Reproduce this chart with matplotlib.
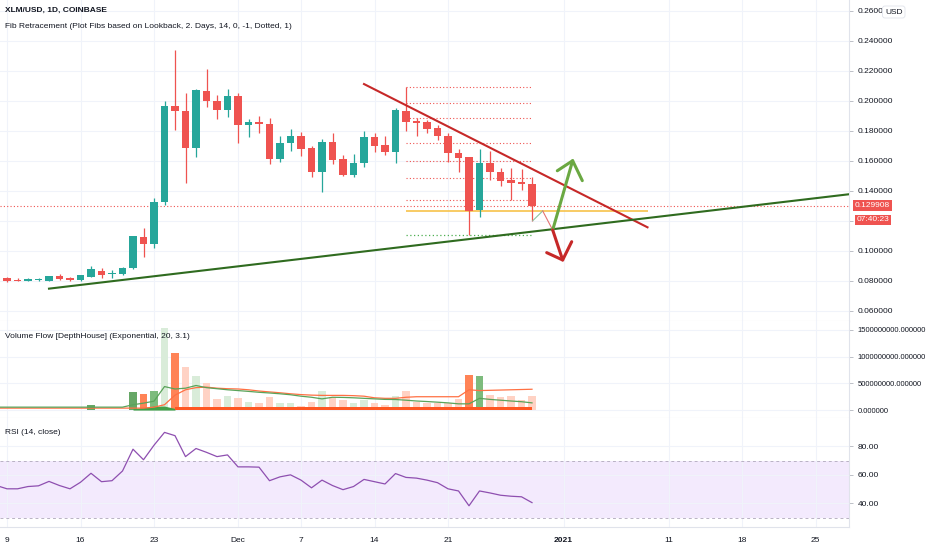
import numpy as np
import matplotlib
matplotlib.use('Agg')
import matplotlib.pyplot as plt
from matplotlib import transforms

plt.rcParams['font.family'] = ['Liberation Sans', 'DejaVu Sans']
FS = 6.0       # axis labels
FS_VOL = 5.5   # long volume labels
FS_T = 6.0     # pane titles

# ---- data (day 0 = Nov 9 2020) ----
first_day = -1
opens = [.0815, .0820, .0808, .0801, .0808, .0801, .0833, .0822, .0805, .0829,
         .0869, .0849, .0845, .0885, .1095, .1047, .1325, .1967, .1935, .1687,
         .2069, .2002, .1940, .2033, .1838, .1860, .1847, .1613, .1718, .1765,
         .1685, .1527, .1727, .1611, .1507, .1589, .1762, .1705, .1662, .1935,
         .1869, .1858, .1822, .1769, .1651, .1629, .1273, .1589, .1529, .1473,
         .1458, .1447]
highs = [.0822, .0827, .0820, .0820, .0817, .0835, .0845, .0828, .0842, .0902,
         .0885, .0873, .0892, .1103, .1153, .1355, .1998, .2340, .2055, .2078,
         .2211, .2040, .2078, .2051, .1878, .1899, .1884, .1767, .1811, .1790,
         .1700, .1745, .1785, .1640, .1649, .1800, .1789, .1767, .1955, .2096,
         .1889, .1871, .1840, .1789, .1678, .1629, .1680, .1667, .1551, .1551,
         .1545, .1491]
lows = [.0800, .0795, .0798, .0797, .0803, .0800, .0805, .0800, .0803, .0825,
        .0818, .0818, .0843, .0880, .0962, .1020, .1307, .1807, .1455, .1629,
        .1962, .1880, .1891, .1722, .1760, .1789, .1578, .1595, .1667, .1635,
        .1495, .1395, .1578, .1500, .1495, .1558, .1662, .1640, .1589, .1802,
        .1767, .1789, .1740, .1595, .1529, .1107, .1229, .1473, .1431, .1340,
        .1407, .1200]
closes = [.0807, .0800, .0803, .0812, .0810, .0831, .0813, .0805, .0838, .0880,
          .0840, .0852, .0889, .1100, .1047, .1325, .1967, .1933, .1687, .2073,
          .2002, .1940, .2033, .1838, .1860, .1845, .1613, .1722, .1765, .1682,
          .1527, .1727, .1607, .1507, .1589, .1762, .1702, .1662, .1940, .1862,
          .1855, .1815, .1767, .1651, .1620, .1267, .1589, .1525, .1469, .1455,
          .1445, .1299]
last_price = 0.129908
countdown = '07:40:23'

fib_levels = [0.2096, 0.1989, 0.1885, 0.1718, 0.1602, 0.1485, 0.1337]
fib_low = 0.1107
fib_yellow = 0.1269
fib_start, fib_end, yellow_end = 38, 50, 61

red_trend = ([34.0, 61.0], [0.2113, 0.1158])
green_trend = ([4.0, 81.0], [0.0749, 0.1385])
green_arrow = ([51.97, 53.87], [0.1140, 0.1602])
green_head = ([52.41, 53.87, 54.79], [0.1535, 0.1602, 0.1469])
red_arrow = ([51.97, 52.92], [0.1140, 0.0940])
red_head = ([51.40, 52.92, 53.78], [0.0989, 0.0940, 0.1062])
path_up = ([50.07, 51.02], [0.1202, 0.1267])
path_down = ([51.02, 51.97], [0.1267, 0.1140])

# volume flow bars, day 8..50 (units of 1e8)
vol_first = 8
vol_vals = [0.98, 0, 0, 0, 3.3, 3.0, 3.5, 15.3, 10.6, 8.1,
            6.3, 5.0, 2.1, 2.65, 2.35, 1.5, 1.3, 2.5, 1.3, 1.3,
            0.8, 1.43, 3.6, 2.5, 1.87, 1.24, 1.87, 1.24, 0.98, 2.7,
            3.6, 1.43, 1.24, 1.24, 1.24, 2.05, 6.5, 6.4, 2.8, 2.4,
            2.6, 1.8, 2.6]
vol_kind = ['G', 'g', 'g', 'g', 'G', 'R', 'M', 'g', 'R', 'r',
            'g', 'r', 'r', 'g', 'r', 'g', 'r', 'r', 'g', 'g',
            'r', 'r', 'g', 'r', 'r', 'g', 'g', 'r', 'r', 'g',
            'r', 'r', 'r', 'r', 'r', 'r', 'R', 'M', 'r', 'r',
            'r', 'r', 'r']
# averages, day -1..50 (units of 1e8)
bear_avg = [0.37] * 15 + [0.55, 1.0, 2.8, 3.8, 4.2, 4.3, 4.1, 4.0, 3.95, 3.8,
                          3.57, 3.4, 3.24, 3.05, 2.9, 2.8, 2.75, 2.75, 2.75, 2.7,
                          2.6, 2.3, 2.2, 2.2, 2.4, 2.5, 2.5, 2.5, 2.5, 2.5,
                          3.8, 3.65, 3.7, 3.75, 3.8, 3.85, 3.9]
bull_avg = [0.55] * 13 + [1.0, 1.3, 1.67, 4.4, 3.95, 4.1, 4.6, 4.2, 4.0, 3.8,
                          3.65, 3.5, 3.33, 3.2, 3.05, 2.87, 2.6, 2.4, 2.1, 2.4,
                          2.37, 2.3, 2.2, 2.1, 2.0, 1.98, 1.85, 1.7, 1.6, 1.48,
                          1.35, 1.17, 1.17, 2.2, 2.0, 1.85, 1.7, 1.57, 1.35]
bull_base_days = [12, 13, 14, 15, 16]
bull_base = [0.3, 0.45, 0.75, 0.75, 0.3]
bear_base_days = list(range(16, 51))
bear_base = [0.5] * 35

rsi = [52.6, 50.3, 50.3, 51.9, 52.4, 55.5, 52.6, 50.3, 54.9, 61.2,
       55.3, 56.0, 62.8, 78.1, 70.7, 80.9, 89.9, 87.6, 72.9, 78.6,
       75.9, 72.9, 74.1, 65.7, 65.7, 65.5, 56.0, 58.7, 60.1, 56.4,
       51.0, 56.4, 52.6, 49.7, 51.9, 56.9, 55.3, 53.7, 61.0, 58.3,
       57.8, 56.4, 54.6, 50.3, 48.8, 38.4, 48.8, 47.4, 45.8, 45.1,
       44.7, 40.6]

tick_days = [0, 7, 14, 22, 28, 35, 42, 53, 63, 70, 77]
tick_labels = ['9', '16', '23', 'Dec', '7', '14', '21', '2021', '11', '18', '25']
price_ticks = [0.06, 0.08, 0.10, 0.12, 0.14, 0.16, 0.18, 0.20, 0.22, 0.24, 0.26]
# 0.12 is hidden under the countdown box, 0.26 is cut by the currency badge
price_labels = ['0.060000', '0.080000', '0.100000', '', '0.140000', '0.160000',
                '0.180000', '0.200000', '0.220000', '0.240000', '0.2600']

# ---- style ----
UP, DOWN = '#26a69a', '#ef5350'
GRID, SEP, TXT = '#f0f3fa', '#e0e3eb', '#131722'
vol_colors = {'G': '#66a766', 'M': '#7dbb7d', 'g': '#d9ecd9', 'R': '#ff8356', 'r': '#ffd2c4'}

W, H = 932, 550
fig = plt.figure(figsize=(W / 100, H / 100), dpi=100)
fig.patch.set_facecolor('white')


def px_axes(x0, y0, x1, y1):
    return fig.add_axes([x0 / W, 1 - y1 / H, (x1 - x0) / W, (y1 - y0) / H])


ax_p = px_axes(0, 0, 849, 321)
ax_v = px_axes(0, 321, 849, 418)
ax_r = px_axes(0, 418, 849, 527)
xlim = (-0.667, 80.19)

for ax in (ax_p, ax_v, ax_r):
    ax.set_xlim(*xlim)
    for s in ('top', 'left'):
        ax.spines[s].set_visible(False)
    ax.spines['right'].set_color(SEP)
    ax.spines['bottom'].set_color(SEP)
    ax.yaxis.tick_right()
    ax.tick_params(axis='y', length=3, width=0.6, color='#b2b5be', pad=3, labelcolor=TXT, labelsize=FS)
    ax.set_xticks(tick_days)
    ax.tick_params(axis='x', length=0)
    ax.grid(True, color=GRID, linewidth=0.8)
    ax.set_axisbelow(True)
    if ax is not ax_r:
        ax.set_xticklabels([])

# ---- price panel ----
days = np.arange(len(opens)) + first_day
o, hi, lo, c = map(np.array, (opens, highs, lows, closes))
col = np.where(c >= o, UP, DOWN)
ax_p.vlines(days, lo, hi, colors=col, linewidth=0.9, zorder=3)
body = np.maximum(np.abs(c - o), 0.0004)
ax_p.bar(days, body, bottom=np.minimum(o, c), width=0.68, color=col, zorder=4)

ax_p.set_ylim(0.05333, 0.26733)
ax_p.set_yticks(price_ticks)
ax_p.set_yticklabels(price_labels)

ax_p.axhline(last_price, color=DOWN, linestyle=(0, (1, 2)), linewidth=0.8, zorder=2)
for lvl in fib_levels:
    ax_p.hlines(lvl, fib_start, fib_end, colors=DOWN, linestyles=(0, (1, 2)), linewidth=0.8, zorder=2)
ax_p.hlines(fib_low, fib_start, fib_end, colors='#4caf50', linestyles=(0, (1, 2)), linewidth=0.9, zorder=2)
ax_p.hlines(fib_yellow, fib_start, yellow_end, colors='#f7c24a', linewidth=1.2, zorder=2)

ax_p.plot(*red_trend, color='#c62828', linewidth=1.5, zorder=5)
ax_p.plot(*green_trend, color='#2f6b1f', linewidth=1.5, zorder=5)
ax_p.plot(*path_up, color='#8bc3a0', linewidth=0.8, zorder=5)
ax_p.plot(*path_down, color='#e57373', linewidth=0.8, zorder=5)
ax_p.plot(*green_arrow, color='#6aa842', linewidth=2.2, zorder=6, solid_capstyle='round')
ax_p.plot(*green_head, color='#6aa842', linewidth=2.2, zorder=6, solid_capstyle='round')
ax_p.plot(*red_arrow, color='#c62828', linewidth=2.2, zorder=6, solid_capstyle='round')
ax_p.plot(*red_head, color='#c62828', linewidth=2.2, zorder=6, solid_capstyle='round')

# last price labels on the scale
tr = transforms.blended_transform_factory(ax_p.transAxes, ax_p.transData)
box = dict(boxstyle='square,pad=0.2', facecolor=DOWN, edgecolor='none')
ax_p.annotate('%.6f' % last_price, xy=(1, last_price), xycoords=tr, xytext=(4.3, 0.5),
              textcoords='offset points', va='center', ha='left', color='white', fontsize=FS,
              annotation_clip=False, bbox=box, zorder=10)
ax_p.annotate(countdown, xy=(1, last_price), xycoords=tr, xytext=(5.5, -9.8),
              textcoords='offset points', va='center', ha='left', color='white', fontsize=FS,
              annotation_clip=False, bbox=box, zorder=10)
fig.text(885 / W, 1 - 12 / H, 'USD', fontsize=FS, color=TXT, va='center', ha='left',
         bbox=dict(boxstyle='round,pad=0.3', facecolor='white', edgecolor=SEP, linewidth=0.6), zorder=20)

fig.text(5 / W, 1 - 10 / H, 'XLM/USD, 1D, COINBASE', fontsize=FS_T, fontweight='bold', color=TXT, va='center')
fig.text(5 / W, 1 - 26 / H, 'Fib Retracement (Plot Fibs based on Lookback, 2. Days, 14, 0, -1, Dotted, 1)',
         fontsize=FS_T, color=TXT, va='center')

# ---- volume flow panel ----
vdays = np.arange(len(vol_vals)) + vol_first
ax_v.bar(vdays, np.array(vol_vals) * 1e8, width=0.72, color=[vol_colors[k] for k in vol_kind], zorder=2)
ax_v.plot(np.arange(len(bear_avg)) + first_day, np.array(bear_avg) * 1e8, color='#ff7043', linewidth=0.9, zorder=4)
ax_v.plot(np.arange(len(bull_avg)) + first_day, np.array(bull_avg) * 1e8, color='#5aa35a', linewidth=0.9, zorder=4)
ax_v.fill_between(bull_base_days, 0, np.array(bull_base) * 1e8, color='#43a047', linewidth=0, zorder=3)
ax_v.fill_between(bear_base_days, 0, np.array(bear_base) * 1e8, color='#ff5722', linewidth=0, zorder=3)
ax_v.set_ylim(-1.48e8, 16.67e8)
vt = [0, 5e8, 1e9, 1.5e9]
ax_v.set_yticks(vt)
ax_v.set_yticklabels(['%.6f' % t for t in vt])
ax_v.tick_params(axis='y', labelsize=FS_VOL)
fig.text(5 / W, 1 - 336 / H, 'Volume Flow [DepthHouse] (Exponential, 20, 3.1)', fontsize=FS_T, color=TXT, va='center')

# ---- RSI panel ----
ax_r.axhspan(30, 70, color='#f3eafd', zorder=0, linewidth=0)
ax_r.axhline(70, color='#b9b2c4', linestyle=(0, (3, 3)), linewidth=0.7)
ax_r.axhline(30, color='#b9b2c4', linestyle=(0, (3, 3)), linewidth=0.7)
ax_r.plot(np.arange(len(rsi)) + first_day, rsi, color='#8e4fb0', linewidth=0.9, zorder=4)
ax_r.set_ylim(23.5, 100)
ax_r.set_yticks([40, 60, 80])
ax_r.set_yticklabels(['40.00', '60.00', '80.00'])
ax_r.set_xticklabels(tick_labels)
ax_r.tick_params(axis='x', pad=7.5, labelsize=FS, labelcolor=TXT)
for lab in ax_r.get_xticklabels():
    if lab.get_text() == '2021':
        lab.set_fontweight('bold')
fig.text(5 / W, 1 - 432 / H, 'RSI (14, close)', fontsize=FS_T, color=TXT, va='center')

fig.savefig('out.png', dpi=100, facecolor='white')
